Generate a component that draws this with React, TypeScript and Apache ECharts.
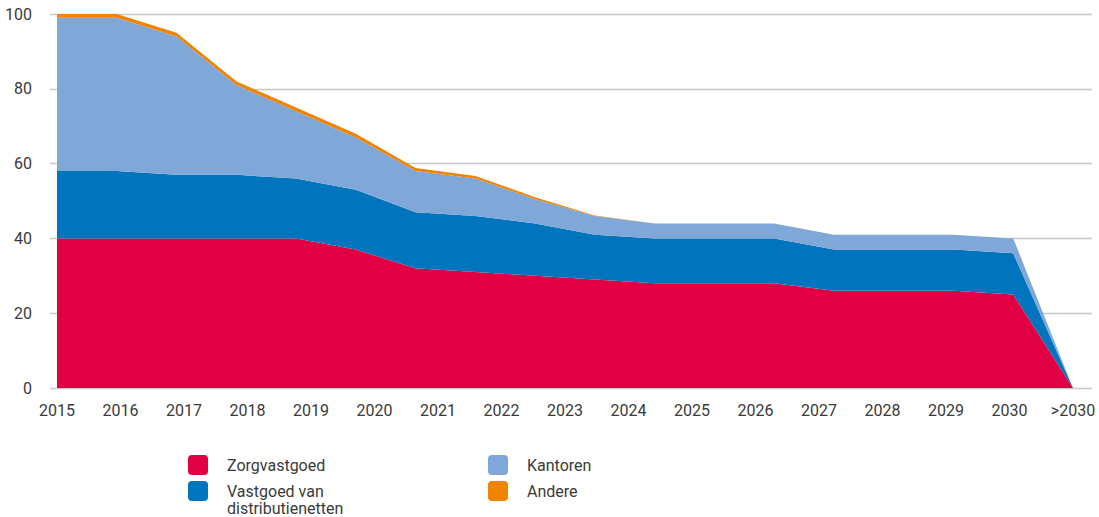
import React, { useEffect, useRef } from "react";
import * as echarts from "echarts";

const dataPoints = ["p0","p1","p2","p3","p4","p5","p6","p7","p8","p9","p10","p11","p12","p13","p14","p15","p16","p17"];
const tickLabels = ["2015","2016","2017","2018","2019","2020","2021","2022","2023","2024","2025","2026","2027","2028","2029","2030",">2030"];
const zorgvastgoed = [40,40,40,40,40,37,32,31,30,29,28,28,28,26,26,26,25,0];
const distributienetten = [18,18,17,17,16,16,15,15,14,12,12,12,12,11,11,11,11,0];
const kantoren = [41,41,37,24,18,14,11,10,6.5,5,4,4,4,4,4,4,4,0];
const andere = [1,1,1,1,1,1,0.8,0.7,0.5,0.1,0,0,0,0,0,0,0,0];
const yTicks = [0, 20, 40, 60, 80, 100];

const COLORS = {
  zorg: "#e20045",
  vast: "#0075be",
  kant: "#7fa8d9",
  andere: "#f08300",
};
const FONT = "Roboto, 'Open Sans', sans-serif";
const TEXT = "#3a3a3a";

export default function App() {
  const ref = useRef<HTMLDivElement>(null);
  useEffect(() => {
    if (!ref.current) return;
    const chart = echarts.init(ref.current, undefined, { renderer: "svg" });
    const mk = (name: string, data: number[], color: string) => ({
      name,
      type: "line",
      stack: "total",
      xAxisIndex: 1,
      yAxisIndex: 1,
      data,
      symbol: "none",
      lineStyle: { width: 0 },
      areaStyle: { color, opacity: 1 },
      itemStyle: { color },
      emphasis: { disabled: true },
    });
    const legendBase = {
      orient: "vertical",
      itemWidth: 20,
      itemHeight: 20,
      itemGap: 6,
      padding: 0,
      height: 200,
      icon: "path://M4,0 H16 A4,4 0 0 1 20,4 V16 A4,4 0 0 1 16,20 H4 A4,4 0 0 1 0,16 V4 A4,4 0 0 1 4,0 Z",
      selectedMode: false,
      textStyle: {
        fontFamily: FONT,
        fontSize: 16,
        color: TEXT,
        lineHeight: 17,
        padding: [0, 0, 0, 14],
      },
    };
    chart.setOption({
      animation: false,
      textStyle: { fontFamily: FONT },
      grid: [
        { left: 50, right: 7, top: 14, bottom: 129 },
        { left: 57, right: 26, top: 14, bottom: 129 },
      ],
      xAxis: [
        { type: "value", gridIndex: 0, min: 0, max: 1, show: false },
        {
          type: "category",
          gridIndex: 1,
          data: dataPoints,
          boundaryGap: false,
          show: false,
        },
        {
          type: "category",
          gridIndex: 1,
          data: tickLabels,
          boundaryGap: false,
          position: "bottom",
          axisLine: { show: false },
          axisTick: { show: false },
          splitLine: { show: false },
          axisLabel: {
            interval: 0,
            margin: 14,
            fontFamily: FONT,
            fontSize: 16,
            color: TEXT,
          },
        },
      ],
      yAxis: [
        {
          type: "value",
          gridIndex: 0,
          min: yTicks[0],
          max: yTicks[yTicks.length - 1],
          interval: 20,
          axisLine: { show: false },
          axisTick: { show: false },
          axisLabel: {
            margin: 18,
            fontFamily: FONT,
            fontSize: 16,
            color: TEXT,
          },
          splitLine: { lineStyle: { color: "#c8c8c8", width: 1.3 } },
        },
        {
          type: "value",
          gridIndex: 1,
          min: 0,
          max: 100,
          show: false,
        },
      ],
      legend: [
        {
          ...legendBase,
          left: 188,
          top: 455,
          itemGap: -9.5,
          data: [{ name: "Zorgvastgoed" }, { name: "Vastgoed van distributienetten" }],
          formatter: (n: string) =>
            n === "Vastgoed van distributienetten"
              ? " \nVastgoed van\ndistributienetten"
              : n,
        },
        {
          ...legendBase,
          left: 488,
          top: 455,
          data: [{ name: "Kantoren" }, { name: "Andere" }],
        },
      ],
      series: [
        mk("Zorgvastgoed", zorgvastgoed, COLORS.zorg),
        mk("Vastgoed van distributienetten", distributienetten, COLORS.vast),
        mk("Kantoren", kantoren, COLORS.kant),
        mk("Andere", andere, COLORS.andere),
      ],
    });
    return () => chart.dispose();
  }, []);
  return (
    <div
      ref={ref}
      style={{ position: "fixed", left: 0, top: 0, width: 1099, height: 517, background: "#fff" }}
    />
  );
}
